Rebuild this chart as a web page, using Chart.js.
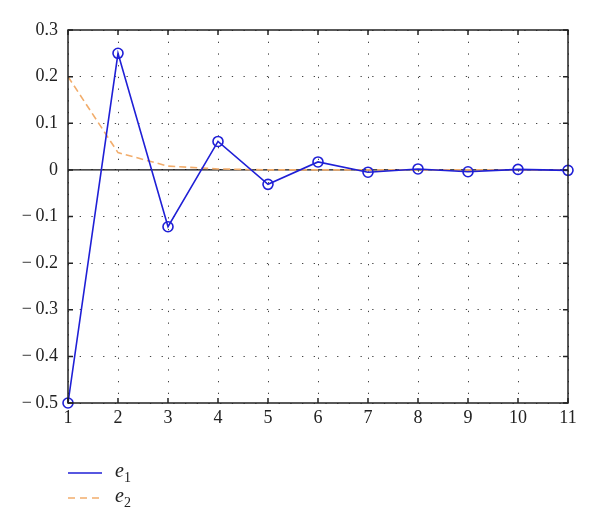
<!DOCTYPE html>
<html>
<head>
<meta charset="utf-8">
<script src="https://cdn.jsdelivr.net/npm/chart.js@4/dist/chart.umd.min.js"></script>
<style>
  html, body { margin: 0; padding: 0; background: #fff; }
  #wrap { position: relative; width: 600px; height: 531px; }
  #legend { position: absolute; left: 68px; top: 460px; font-family: 'Liberation Serif', serif; font-size: 20px; color: #222; }
  #legend .row { display: flex; align-items: center; height: 25px; }
  #legend svg { margin-right: 13px; }
  #legend sub { font-style: normal; font-size: 14px; }
</style>
</head>
<body>
<div id="wrap">
  <canvas id="chart" width="600" height="531"></canvas>
  <div id="legend">
    <div class="row"><svg width="34" height="4"><line x1="0" y1="2" x2="34" y2="2" stroke="#1f1fd6" stroke-width="1.6"/></svg><span><i>e</i><sub>1</sub></span></div>
    <div class="row"><svg width="34" height="4"><line x1="0" y1="2" x2="34" y2="2" stroke="#f2ad6c" stroke-width="1.6" stroke-dasharray="7 5"/></svg><span><i>e</i><sub>2</sub></span></div>
  </div>
</div>
<script>
// Data
const steps = [1, 2, 3, 4, 5, 6, 7, 8, 9, 10, 11];
const e1 = [-0.5, 0.25, -0.122, 0.061, -0.031, 0.017, -0.005, 0.002, -0.004, 0.001, -0.001];
const e2 = [0.2, 0.037, 0.008, 0.002, 0, 0, 0, 0, 0, 0, 0];
const yTicks = [-0.5, -0.4, -0.3, -0.2, -0.1, 0, 0.1, 0.2, 0.3];

const blue = '#1f1fd6';
const orange = '#f2ad6c';
const fontFamily = "'Liberation Serif', 'DejaVu Serif', serif";

// Frame, zero line and inward ticks
const framePlugin = {
    id: 'frame',
    beforeDatasetsDraw(chart) {
        const { ctx, chartArea: a, scales } = chart;
        const y0 = scales.y.getPixelForValue(0);
        ctx.save();
        ctx.strokeStyle = '#111';
        ctx.lineWidth = 1.3;
        ctx.beginPath();
        ctx.moveTo(a.left, y0);
        ctx.lineTo(a.right, y0);
        ctx.stroke();
        ctx.restore();
    },
    afterDraw(chart) {
        const { ctx, chartArea: a, scales } = chart;
        ctx.save();
        ctx.strokeStyle = '#222';
        ctx.lineWidth = 1.5;
        ctx.strokeRect(a.left, a.top, a.right - a.left, a.bottom - a.top);
        const len = 5;
        ctx.beginPath();
        steps.forEach(v => {
            const x = scales.x.getPixelForValue(v);
            ctx.moveTo(x, a.bottom); ctx.lineTo(x, a.bottom - len);
            ctx.moveTo(x, a.top); ctx.lineTo(x, a.top + len);
        });
        yTicks.forEach(v => {
            const y = scales.y.getPixelForValue(v);
            ctx.moveTo(a.left, y); ctx.lineTo(a.left + len, y);
            ctx.moveTo(a.right, y); ctx.lineTo(a.right - len, y);
        });
        ctx.stroke();
        ctx.restore();
    }
};

const fmt = v => {
    const r = Math.round(v * 10) / 10;
    if (r === 0) return '0';
    return r < 0 ? '\u2212\u2009' + Math.abs(r).toFixed(1) : r.toFixed(1);
};

new Chart(document.getElementById('chart').getContext('2d'), {
    type: 'line',
    data: {
        datasets: [
            {
                label: 'e1',
                data: steps.map((s, i) => ({ x: s, y: e1[i] })),
                borderColor: blue,
                borderWidth: 1.6,
                pointRadius: 5,
                pointBorderWidth: 1.6,
                pointBorderColor: blue,
                pointBackgroundColor: 'rgba(0,0,0,0)',
                tension: 0,
                clip: false,
                order: 1
            },
            {
                label: 'e2',
                data: steps.map((s, i) => ({ x: s, y: e2[i] })),
                borderColor: orange,
                borderWidth: 1.6,
                borderDash: [7, 4],
                pointRadius: 0,
                tension: 0,
                order: 2
            }
        ]
    },
    options: {
        responsive: false,
        animation: false,
        layout: { padding: { left: 0, top: 30, right: 32, bottom: 98 } },
        plugins: {
            legend: { display: false },
            tooltip: { enabled: false }
        },
        scales: {
            x: {
                type: 'linear',
                min: 1,
                max: 11,
                ticks: { stepSize: 1, color: '#222', font: { family: fontFamily, size: 18 }, padding: 4, maxRotation: 0 },
                grid: { color: '#444', lineWidth: 1, drawTicks: false },
                border: { display: false, dash: [1.3, 10.4] },
                afterFit: s => { s.height = 30; }
            },
            y: {
                min: -0.5,
                max: 0.3,
                afterBuildTicks: s => { s.ticks = yTicks.map(v => ({ value: v })); },
                ticks: { callback: fmt, color: '#222', font: { family: fontFamily, size: 18 }, padding: 10 },
                grid: { color: '#444', lineWidth: 1, drawTicks: false },
                border: { display: false, dash: [1.3, 10.4] },
                afterFit: s => { s.width = 68; }
            }
        }
    },
    plugins: [framePlugin]
});
</script>
</body>
</html>
